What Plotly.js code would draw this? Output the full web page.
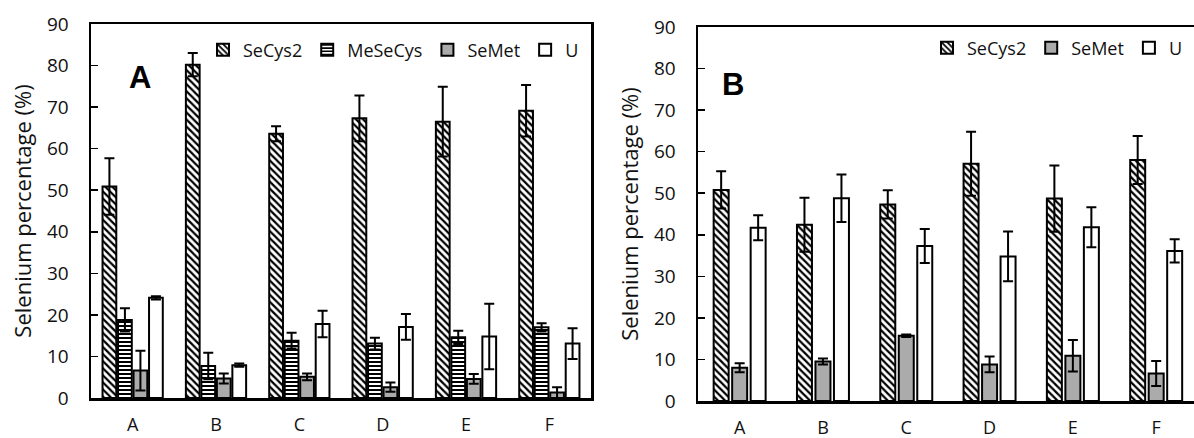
<!DOCTYPE html>
<html>
<head>
<meta charset="utf-8">
<script src="https://cdn.plot.ly/plotly-3.0.1.min.js"></script>
<style>html,body{margin:0;padding:0;background:#fff;}#chart{width:1194px;height:438px;}</style>
</head>
<body>
<div id="chart"></div>
<script>
// ---- data ----
const groups = ["A", "B", "C", "D", "E", "F"];

// Panel A
const aSeCys2 = [50.9, 80.2, 63.6, 67.3, 66.5, 69.1];
const aSeCys2Err = [6.8, 2.8, 1.8, 5.5, 8.4, 6.2];
const aMeSeCys = [18.8, 7.7, 13.8, 13.1, 14.6, 17.0];
const aMeSeCysErr = [2.8, 3.2, 1.9, 1.4, 1.6, 1.0];
const aSeMet = [6.6, 4.7, 5.1, 2.6, 4.6, 1.3];
const aSeMetErr = [4.8, 1.2, 0.8, 1.1, 1.2, 1.3];
const aU = [24.1, 7.9, 17.8, 17.1, 14.8, 13.1];
const aUErr = [0.4, 0.4, 3.2, 3.1, 7.9, 3.7];

// Panel B
const bSeCys2 = [50.8, 42.4, 47.3, 57.1, 48.7, 58.0];
const bSeCys2Err = [4.5, 6.5, 3.4, 7.7, 8.0, 5.8];
const bSeMet = [8.0, 9.5, 15.7, 8.8, 10.9, 6.6];
const bSeMetErr = [1.1, 0.7, 0.3, 1.9, 3.8, 3.0];
const bU = [41.7, 48.8, 37.3, 34.8, 41.8, 36.1];
const bUErr = [3.0, 5.7, 4.1, 6.0, 4.8, 2.8];

// ---- styles ----
const outline = {color: "black", width: 2};
const errStyle = (arr) => ({type: "data", array: arr, visible: true, color: "black", thickness: 2, width: 5});
const hatchDiag = {color: "white", line: outline, pattern: {shape: "\\", fgcolor: "black", bgcolor: "white", size: 5, solidity: 0.45}};
const hatchHoriz = {color: "white", line: outline, pattern: {shape: "-", fgcolor: "black", bgcolor: "white", size: 4, solidity: 0.5}};
const grayFill = {color: "#ababab", line: outline};
const whiteFill = {color: "white", line: outline};

const wA = 0.165, stepA = 0.186;
const wB = 0.18, stepB = 0.222;

function barTrace(name, y, err, marker, xa, ya, legend, center, w) {
  return {
    type: "bar", name: name, x: groups, y: y, error_y: errStyle(err),
    marker: marker, xaxis: xa, yaxis: ya, legend: legend,
    width: w, offset: center - w / 2, hoverinfo: "y"
  };
}

const data = [
  barTrace("SeCys2", aSeCys2, aSeCys2Err, hatchDiag, "x", "y", "legend", -1.5 * stepA, wA),
  barTrace("MeSeCys", aMeSeCys, aMeSeCysErr, hatchHoriz, "x", "y", "legend", -0.5 * stepA, wA),
  barTrace("SeMet", aSeMet, aSeMetErr, grayFill, "x", "y", "legend", 0.5 * stepA, wA),
  barTrace("U", aU, aUErr, whiteFill, "x", "y", "legend", 1.5 * stepA, wA),
  barTrace("SeCys2", bSeCys2, bSeCys2Err, hatchDiag, "x2", "y2", "legend2", -stepB, wB),
  barTrace("SeMet", bSeMet, bSeMetErr, grayFill, "x2", "y2", "legend2", 0, wB),
  barTrace("U", bU, bUErr, whiteFill, "x2", "y2", "legend2", stepB, wB)
];

const W = 1194, H = 438;
const font = {family: "Open Sans, Noto Sans, sans-serif", color: "#111"};
const tickFont = {family: font.family, size: 19, color: "#111"};
const xTickFont = {family: font.family, size: 18, color: "#111"};
const legendFont = {family: font.family, size: 18, color: "#111"};

function yax(domain, anchor, mirror) {
  return {
    domain: domain, anchor: anchor, range: [0, 90], dtick: 10, showgrid: false, zeroline: false,
    showline: true, linecolor: "black", linewidth: 2.5, mirror: mirror,
    ticks: "inside", ticklen: 7, tickwidth: 1.5, tickcolor: "black",
    tickfont: tickFont, ticklabelstandoff: 16,
    title: {text: "Selenium percentage (%)", font: {family: font.family, size: 22, color: "#111"}, standoff: 10}
  };
}
function xax(domain, anchor, range) {
  return {
    domain: domain, anchor: anchor, type: "category", range: range, showgrid: false, zeroline: false,
    showline: true, linecolor: "black", linewidth: 2.5, mirror: true,
    ticks: "", tickfont: xTickFont, ticklabelstandoff: 9
  };
}

const layout = {
  width: W, height: H, margin: {l: 0, r: 0, t: 0, b: 0},
  paper_bgcolor: "white", plot_bgcolor: "white", font: font,
  showlegend: true,
  xaxis: xax([91 / W, 591 / W], "y", [-0.5, 5.5]),
  yaxis: yax([(H - 398) / H, (H - 24) / H], "x", true),
  xaxis2: xax([698 / W, 1], "y2", [-0.5, 5.454]),
  yaxis2: yax([(H - 401) / H, (H - 27) / H], "x2", false),
  legend: {orientation: "h", x: 584 / W, xanchor: "right", y: 1 - 50 / H, yanchor: "middle",
           font: legendFont, bgcolor: "rgba(0,0,0,0)", itemwidth: 30, traceorder: "normal"},
  legend2: {orientation: "h", x: 1188 / W, xanchor: "right", y: 1 - 48 / H, yanchor: "middle",
           font: legendFont, bgcolor: "rgba(0,0,0,0)", itemwidth: 30, traceorder: "normal"},
  annotations: [
    {text: "<b>A</b>", xref: "paper", yref: "paper", x: 127 / W, y: 1 - 58 / H, showarrow: false,
     font: {family: "Liberation Sans, Arial, sans-serif", size: 31, color: "black"}},
    {text: "<b>B</b>", xref: "paper", yref: "paper", x: 733 / W, y: 1 - 65 / H, showarrow: false,
     font: {family: "Liberation Sans, Arial, sans-serif", size: 31, color: "black"}}
  ]
};

Plotly.newPlot("chart", data, layout, {displayModeBar: false, staticPlot: true});
</script>
</body>
</html>
